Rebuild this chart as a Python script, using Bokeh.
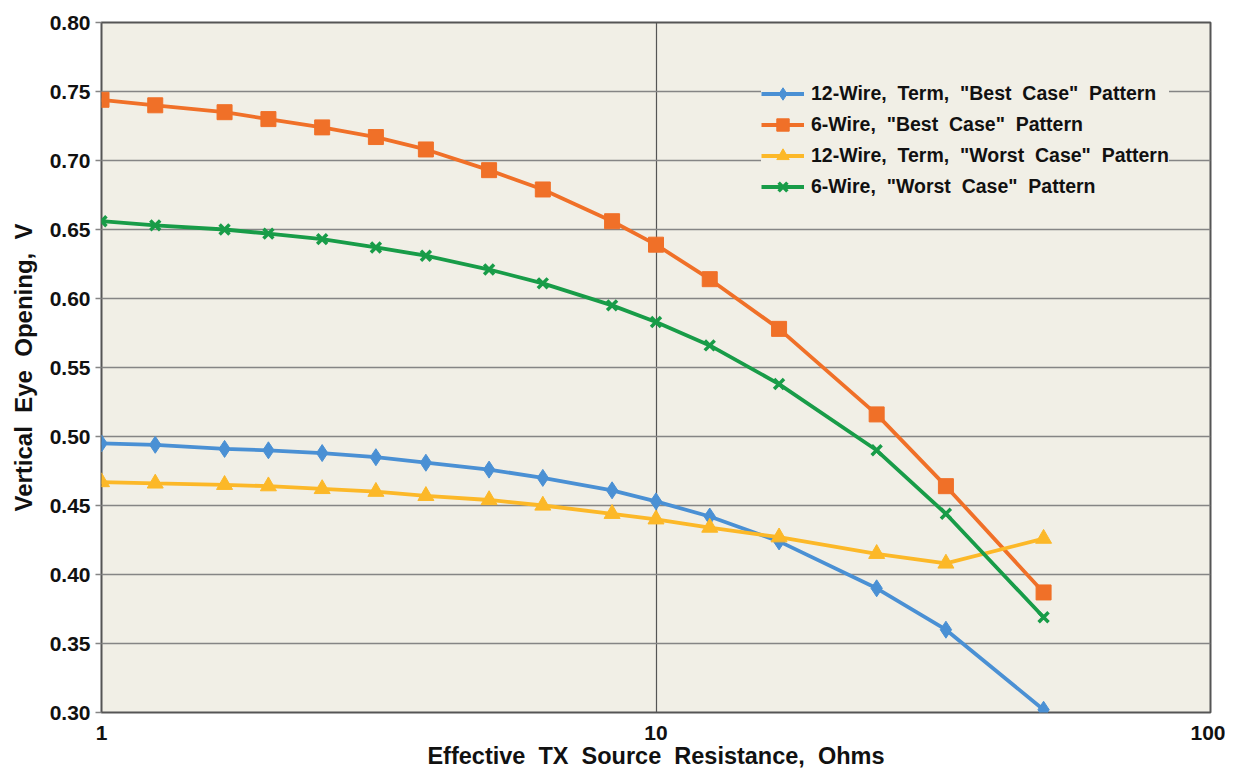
from bokeh.plotting import figure
from bokeh.models import Legend, LegendItem, FixedTicker, CustomJSTickFormatter
from bokeh.embed import file_html
from bokeh.resources import INLINE

# Data
resistance = [1, 1.25, 1.667, 2, 2.5, 3.125, 3.846, 5, 6.25, 8.333, 10, 12.5, 16.67, 25, 33.33, 50]
wire12_best = [0.495, 0.494, 0.491, 0.490, 0.488, 0.485, 0.481, 0.476, 0.470, 0.461, 0.453, 0.442, 0.424, 0.390, 0.360, 0.302]
wire6_best = [0.744, 0.740, 0.735, 0.730, 0.724, 0.717, 0.708, 0.693, 0.679, 0.656, 0.639, 0.614, 0.578, 0.516, 0.464, 0.387]
wire12_worst = [0.467, 0.466, 0.465, 0.464, 0.462, 0.460, 0.457, 0.454, 0.450, 0.444, 0.440, 0.434, 0.427, 0.415, 0.408, 0.426]
wire6_worst = [0.656, 0.653, 0.650, 0.647, 0.643, 0.637, 0.631, 0.621, 0.611, 0.595, 0.583, 0.566, 0.538, 0.490, 0.444, 0.369]

SP = " \u00a0"  # wide word spacing as in the reference
series_labels = [
    SP.join(["12-Wire,", "Term,", '"Best', 'Case"', "Pattern"]),
    SP.join(["6-Wire,", '"Best', 'Case"', "Pattern"]),
    SP.join(["12-Wire,", "Term,", '"Worst', 'Case"', "Pattern"]),
    SP.join(["6-Wire,", '"Worst', 'Case"', "Pattern"]),
]
y_ticks = [0.30, 0.35, 0.40, 0.45, 0.50, 0.55, 0.60, 0.65, 0.70, 0.75, 0.80]
x_ticks = [1, 10, 100]
x_title = SP.join(["Effective", "TX", "Source", "Resistance,", "Ohms"])
y_title = SP.join(["Vertical", "Eye", "Opening,", "V"])

colors = ["#4A90D4", "#F07028", "#FCB828", "#189C48"]
markers = ["diamond", "square", "triangle", "x"]
sizes = [17, 15, 16, 14]
series = [wire12_best, wire6_best, wire12_worst, wire6_worst]

FONT = "Liberation Sans"
BG = "#F1EFE6"

p = figure(
    x_axis_type="log", x_range=(1, 100), y_range=(0.30, 0.80),
    frame_width=1109, frame_height=690,
    min_border_left=101, min_border_right=15, min_border_top=22, min_border_bottom=50,
    output_backend="svg", toolbar_location=None,
    background_fill_color=BG, border_fill_color="white",
)

p.outline_line_color = "#555555"
p.outline_line_width = 2

# grids
p.ygrid.ticker = FixedTicker(ticks=y_ticks)
p.yaxis.ticker = FixedTicker(ticks=y_ticks)
p.xgrid.ticker = FixedTicker(ticks=x_ticks)
p.xaxis.ticker = FixedTicker(ticks=x_ticks)
p.ygrid.grid_line_color = "#858585"
p.ygrid.grid_line_width = 1.6
p.xgrid.grid_line_color = "#555555"
p.xgrid.grid_line_width = 1.2

# axes
for ax in (p.xaxis[0], p.yaxis[0]):
    ax.axis_line_color = None
    ax.major_label_text_font = FONT
    ax.major_label_text_font_style = "bold"
    ax.major_label_text_font_size = "21px"
    ax.major_label_text_color = "#111111"
    ax.axis_label_text_font = FONT
    ax.axis_label_text_font_style = "bold"
    ax.axis_label_text_color = "#111111"
    ax.minor_tick_line_color = None
    ax.major_tick_in = 0

p.xaxis.major_tick_line_color = None
p.xaxis.major_tick_out = 0
p.xaxis.major_label_standoff = 13
p.xaxis.axis_label_standoff = 0
p.xaxis.axis_label = x_title
p.xaxis.axis_label_text_font_size = "23.5px"
p.xaxis.formatter = CustomJSTickFormatter(code="return tick.toFixed(0);")

p.yaxis.major_tick_out = 6
p.yaxis.major_tick_line_color = "#858585"
p.yaxis.major_tick_line_width = 1.6
p.yaxis.major_label_standoff = 5
p.yaxis.axis_label_standoff = 10
p.yaxis.axis_label = y_title
p.yaxis.axis_label_text_font_size = "24px"
p.yaxis.formatter = CustomJSTickFormatter(code="return tick.toFixed(2);")

items = []
for ys, col, mk, sz, lab in zip(series, colors, markers, sizes, series_labels):
    r1 = p.line(resistance, ys, line_color=col, line_width=3.8)
    if mk == "x":
        r2 = p.scatter(resistance, ys, marker=mk, size=sz, line_color=col, line_width=3.5)
    else:
        r2 = p.scatter(resistance, ys, marker=mk, size=sz, fill_color=col, line_color=col)
    items.append(LegendItem(label=lab, renderers=[r1, r2]))

legend = Legend(
    items=items, location=(660, 510),
    background_fill_color=BG, background_fill_alpha=1.0,
    border_line_color=None,
    label_text_font=FONT, label_text_font_style="bold", label_text_font_size="19.5px",
    label_text_color="#111111",
    glyph_width=43, glyph_height=31, label_height=31, spacing=0,
    label_standoff=7, padding=10, margin=0,
)
p.add_layout(legend, "center")

open("out.html", "w").write(file_html(p, INLINE))
